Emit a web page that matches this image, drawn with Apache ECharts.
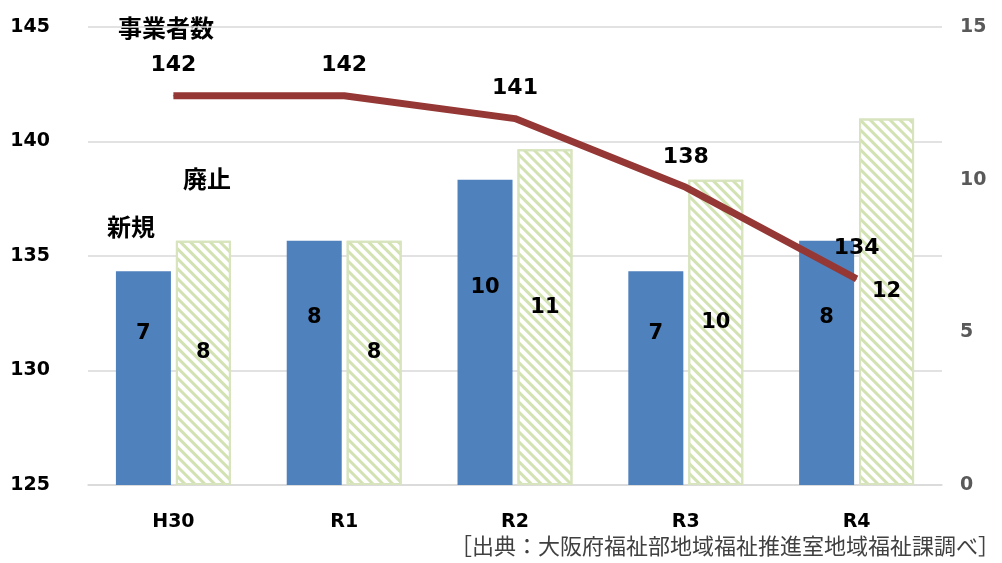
<!DOCTYPE html>
<html><head><meta charset="utf-8">
<script src="https://cdn.jsdelivr.net/npm/echarts@6/dist/echarts.min.js"></script>
<style>html,body{margin:0;padding:0;background:#fff}#c{width:1002px;height:563px}</style>
</head><body><div id="c"></div>
<script>
const categories = ['H30', 'R1', 'R2', 'R3', 'R4'];
const newCount = [7, 8, 10, 7, 8];
const closedCount = [8, 8, 11, 10, 12];
const businessCount = [142, 142, 141, 138, 134];
const leftTicks = [125, 130, 135, 140, 145];
const rightTicks = [0, 5, 10, 15];

const numFont = 'DejaVu Sans, Verdana, sans-serif';
const jpFont = '"Noto Sans CJK JP", sans-serif';

const chart = echarts.init(document.getElementById('c'));
chart.setOption({
  animation: false,
  backgroundColor: '#fff',
  grid: { left: 88, right: 60, top: 27, bottom: 78 },
  xAxis: {
    type: 'category', data: categories,
    axisLine: { lineStyle: { color: '#d9d9d9', width: 1.5 } },
    axisTick: { show: false },
    axisLabel: { color: '#000', fontWeight: 'bold', fontSize: 19, fontFamily: numFont, margin: 28 }
  },
  yAxis: [
    {
      type: 'value', min: leftTicks[0], max: leftTicks[leftTicks.length - 1], interval: 5,
      axisLine: { show: false }, axisTick: { show: false },
      axisLabel: { color: '#000', fontWeight: 'bold', fontSize: 19, fontFamily: numFont, margin: 38 },
      splitLine: { lineStyle: { color: '#d9d9d9', width: 1.5 } }
    },
    {
      type: 'value', min: rightTicks[0], max: rightTicks[rightTicks.length - 1], interval: 5,
      axisLine: { show: false }, axisTick: { show: false },
      axisLabel: { color: '#595959', fontWeight: 'bold', fontSize: 19, fontFamily: numFont, margin: 18 },
      splitLine: { show: false }
    }
  ],
  series: [
    {
      name: '新規', type: 'bar', yAxisIndex: 1, data: newCount,
      barWidth: 55, barGap: '9%',
      itemStyle: { color: '#4f81bd' },
      label: { show: true, position: 'inside', offset: [0, -45], color: '#000', fontWeight: 'bold', fontSize: 21, fontFamily: numFont }
    },
    {
      name: '廃止', type: 'bar', yAxisIndex: 1, data: closedCount,
      barWidth: 55,
      itemStyle: {
        color: '#ffffff', borderColor: '#d7e4bd', borderWidth: 2,
        decal: { symbol: 'rect', color: '#d2e2b2', dashArrayX: [1, 0], dashArrayY: [3, 4], rotation: Math.PI / 4, symbolSize: 1 }
      },
      label: { show: true, position: 'inside', offset: [0, -10], color: '#000', fontWeight: 'bold', fontSize: 21, fontFamily: numFont }
    },
    {
      name: '事業者数', type: 'line', yAxisIndex: 0, data: businessCount,
      showSymbol: true, symbol: 'circle', symbolSize: 1,
      itemStyle: { color: '#953735' },
      lineStyle: { color: '#953735', width: 7 },
      label: { show: true, position: 'top', distance: 19, color: '#000', fontWeight: 'bold', fontSize: 22, fontFamily: numFont },
      z: 5
    }
  ],
  graphic: [
    { type: 'text', left: 118, top: 16, style: { text: '事業者数', font: 'bold 24px ' + jpFont, fill: '#000' } },
    { type: 'text', left: 183, top: 167, style: { text: '廃止', font: 'bold 24px ' + jpFont, fill: '#000' } },
    { type: 'text', left: 107, top: 215, style: { text: '新規', font: 'bold 24px ' + jpFont, fill: '#000' } },
    { type: 'text', right: 2, top: 535, style: { text: '［出典：大阪府福祉部地域福祉推進室地域福祉課調べ］', font: '22px ' + jpFont, fill: '#404040' } }
  ]
});
</script>
</body></html>
